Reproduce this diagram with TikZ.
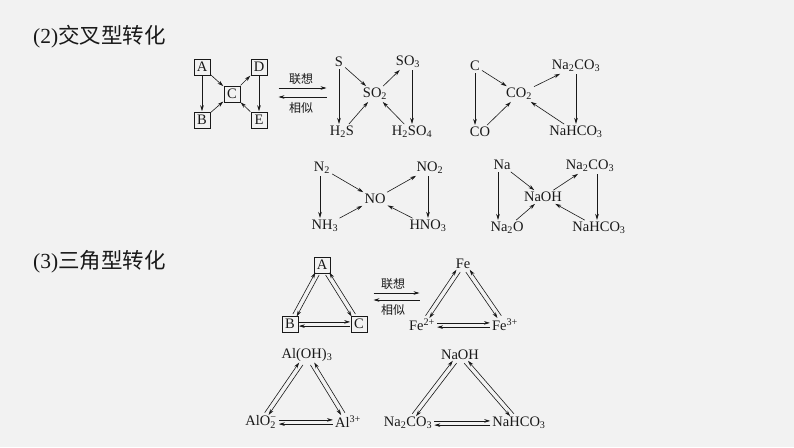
\documentclass[tikz,border=0pt]{standalone}
\usepackage{fontspec}
\setmainfont{Liberation Serif}
\newfontfamily\cjk{Noto Sans CJK SC}
\usetikzlibrary{arrows.meta,calc}
\definecolor{bgc}{RGB}{242,242,242}
\definecolor{ink}{RGB}{25,25,25}
\newcommand\trisides[3]{%
 \draw[arr,transform canvas={shift={(1.9pt,-1.2pt)}}] (#1) -- (#2);
 \draw[arr,transform canvas={shift={(-1.9pt,1.2pt)}}] (#2) -- (#1);
 \draw[arr,transform canvas={shift={(-1.9pt,-1.2pt)}}] (#1) -- (#3);
 \draw[arr,transform canvas={shift={(1.9pt,1.2pt)}}] (#3) -- (#1);
 \draw[arr,transform canvas={shift={(0pt,2.1pt)}}] (#2) -- (#3);
 \draw[arr,transform canvas={shift={(0pt,-2.1pt)}}] (#3) -- (#2);}
\begin{document}
\begin{tikzpicture}[x=1pt,y=-1pt,
 chem/.style={inner sep=1.5pt, text=ink, font=\fontsize{14.5}{16}\selectfont},
 bx/.style={draw=ink, text=ink, line width=0.65pt, minimum size=16pt, inner sep=0pt, font=\fontsize{14.5}{16}\selectfont},
 arr/.style={draw=ink, -{Stealth[length=6pt,width=3.6pt]}, line width=0.6pt, shorten <=0.5pt, shorten >=0.5pt},
 lab/.style={text=ink, font=\cjk\fontsize{12}{13}\selectfont, inner sep=0pt},
 head/.style={anchor=west, text=ink, inner sep=0pt, font=\fontsize{21.5}{24}\selectfont}]
\fill[bgc] (0,0) rectangle (794,447);
\useasboundingbox (0,0) rectangle (794,447);

% headings
\node[head] (h2) at (33,37) {(2)\cjk 交叉型转化};
\node[head] (h3) at (33,262) {(3)\cjk 三角型转化};

% box cross diagram
\node[bx] (A) at (202,67) {A};
\node[bx] (D) at (259,67) {D};
\node[bx] (C) at (232,94) {C};
\node[bx] (B) at (202,120) {B};
\node[bx] (E) at (259,120) {E};
\draw[arr] (A) -- (B);
\draw[arr] (A) -- (C);
\draw[arr] (B) -- (C);
\draw[arr] (C) -- (D);
\draw[arr] (D) -- (E);
\draw[arr] (E) -- (C);

% association arrows 1
\coordinate (p1) at (278,88); \coordinate (p2) at (327,88);
\coordinate (q1) at (327,97); \coordinate (q2) at (278,97);
\draw[arr] (p1) -- (p2);
\draw[arr] (q1) -- (q2);
\node[lab] (lx1) at (301,79) {联想};
\node[lab] (xs1) at (301,108) {相似};

% sulfur
\node[chem] (s) at (339,62) {S};
\node[chem] (so3) at (408,62) {SO\textsubscript{3}};
\node[chem] (so2) at (375,94) {SO\textsubscript{2}};
\node[chem] (h2s) at (342,132) {H\textsubscript{2}S};
\node[chem] (h2so4) at (412,132) {H\textsubscript{2}SO\textsubscript{4}};
\draw[arr] (s.south) -- (s |- h2s.north);
\draw[arr] (s) -- (so2);
\draw[arr] (h2s) -- (so2);
\draw[arr] (so2) -- (so3);
\draw[arr] (h2so4 |- so3.south) -- (h2so4.north);
\draw[arr] (h2so4) -- (so2);

% carbon
\node[chem] (c) at (475,66) {C};
\node[chem] (na2co3a) at (576,66) {Na\textsubscript{2}CO\textsubscript{3}};
\node[chem] (co2) at (519,94) {CO\textsubscript{2}};
\node[chem] (co) at (480,132) {CO};
\node[chem] (nahco3a) at (576,132) {NaHCO\textsubscript{3}};
\draw[arr] (c.south) -- (c |- co.north);
\draw[arr] (c) -- (co2);
\draw[arr] (co) -- (co2);
\draw[arr] (co2) -- (na2co3a);
\draw[arr] (na2co3a) -- (nahco3a);
\draw[arr] (nahco3a) -- (co2);

% nitrogen
\node[chem] (n2) at (322,168) {N\textsubscript{2}};
\node[chem] (no2) at (430,168) {NO\textsubscript{2}};
\node[chem] (no) at (375,199) {NO};
\node[chem] (nh3) at (325,226) {NH\textsubscript{3}};
\node[chem] (hno3) at (428,226) {HNO\textsubscript{3}};
\draw[arr] ([xshift=-2pt]n2.south) -- ([xshift=-2pt]n2.south |- nh3.north);
\draw[arr] (n2) -- (no);
\draw[arr] (nh3) -- (no);
\draw[arr] (no) -- (no2);
\draw[arr] (hno3 |- no2.south) -- (hno3.north);
\draw[arr] (hno3) -- (no);

% sodium
\node[chem] (na) at (502,165) {Na};
\node[chem] (na2co3b) at (590,166) {Na\textsubscript{2}CO\textsubscript{3}};
\node[chem] (naoh) at (543,197) {NaOH};
\node[chem] (na2o) at (507,228) {Na\textsubscript{2}O};
\node[chem] (nahco3b) at (599,228) {NaHCO\textsubscript{3}};
\draw[arr] ([xshift=-4pt]na.south) -- ([xshift=-4pt]na.south |- na2o.north);
\draw[arr] (na) -- (naoh);
\draw[arr] (na2o) -- (naoh);
\draw[arr] (naoh) -- (na2co3b);
\draw[arr] ([xshift=7pt]na2co3b.south) -- ([xshift=7pt]na2co3b.south |- nahco3b.north);
\draw[arr] (nahco3b) -- (naoh);

% triangle ABC
\node[bx] (TA) at (322,265) {A};
\node[bx] (TB) at (290,324) {B};
\node[bx] (TC) at (359,324) {C};
\trisides{TA}{TB}{TC}

% association arrows 2
\coordinate (r1) at (373,293); \coordinate (r2) at (420,293);
\coordinate (t1) at (420,300); \coordinate (t2) at (373,300);
\draw[arr] (r1) -- (r2);
\draw[arr] (t1) -- (t2);
\node[lab] (lx2) at (393,284) {联想};
\node[lab] (xs2) at (393,310) {相似};

% iron
\node[chem] (fe) at (463,264) {Fe};
\node[chem] (fe2) at (422,325) {Fe\textsuperscript{2+}};
\node[chem] (fe3) at (505,325) {Fe\textsuperscript{3+}};
\trisides{fe}{fe2}{fe3}

% aluminium
\node[chem] (aloh) at (307,355) {Al(OH)\textsubscript{3}};
\node[chem] (alo2) at (261,422) {AlO\rlap{\textsubscript{2}}\textsuperscript{−}};
\node[chem] (al3) at (348,422) {Al\textsuperscript{3+}};
\trisides{aloh}{alo2}{al3}

% sodium hydroxide
\node[chem] (naohb) at (460,355) {NaOH};
\node[chem] (na2co3c) at (408,423) {Na\textsubscript{2}CO\textsubscript{3}};
\node[chem] (nahco3c) at (519,423) {NaHCO\textsubscript{3}};
\trisides{naohb}{na2co3c}{nahco3c}
\end{tikzpicture}
\end{document}
